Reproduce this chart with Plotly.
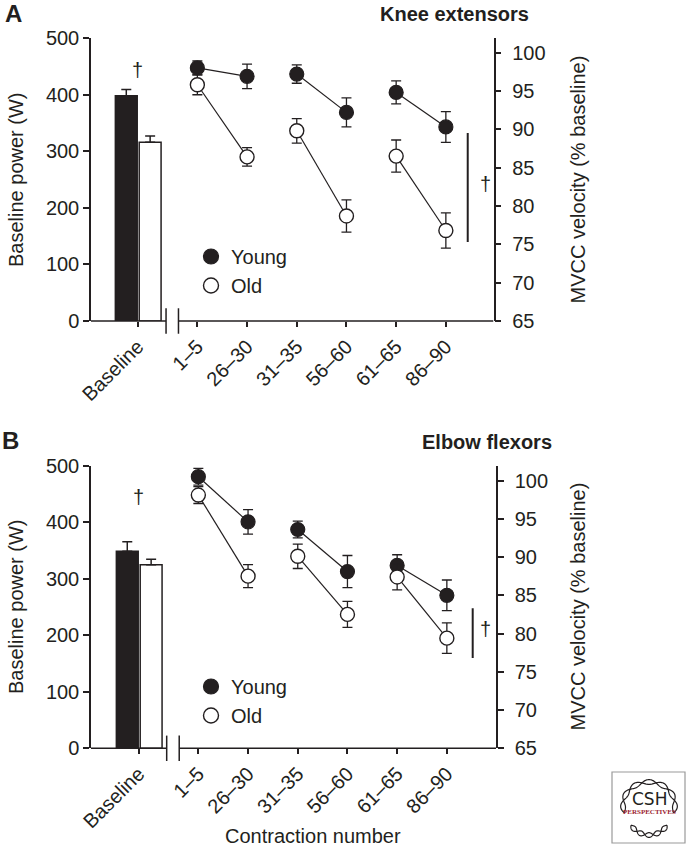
import numpy as np
import plotly.graph_objects as go

W, H = 688, 848
INK = "#231f20"
FONT = "Liberation Sans, Arial, Helvetica, sans-serif"

# ---------------- data ----------------
categories = ["1–5", "26–30", "31–35", "56–60", "61–65", "86–90"]
baseline_label = "Baseline"

knee_base_young, knee_base_young_err = 398, 11
knee_base_old, knee_base_old_err = 316, 11
knee_young = [98.0, 96.9, 97.2, 92.2, 94.8, 90.3]
knee_young_err = [0.9, 1.6, 1.2, 1.9, 1.5, 2.0]
knee_old = [95.8, 86.4, 89.8, 78.7, 86.5, 76.8]
knee_old_err = [1.3, 1.2, 1.6, 2.1, 2.1, 2.3]

elbow_base_young, elbow_base_young_err = 349, 17
elbow_base_old, elbow_base_old_err = 325, 10
elbow_young = [100.5, 94.6, 93.6, 88.1, 88.9, 85.0]
elbow_young_err = [1.1, 1.6, 1.1, 2.1, 1.4, 2.0]
elbow_old = [98.1, 87.5, 90.1, 82.5, 87.4, 79.4]
elbow_old_err = [1.1, 1.5, 1.6, 1.7, 1.7, 2.0]

power_ticks = [0, 100, 200, 300, 400, 500]
velocity_ticks = [65, 70, 75, 80, 85, 90, 95, 100]

# category positions on the numeric x axis (baseline at 0, break, then 1 unit apart)
xpos = [1.2 + i for i in range(len(categories))]


def px(x):
    return x / W


def py(y):
    return 1 - y / H


def gapped(vals, fill=None):
    out = []
    for i, v in enumerate(vals):
        out.append(v)
        if i % 2 == 1:
            out.append(fill)
    return out


gx = gapped(xpos)

fig = go.Figure()

panels = [
    dict(xa="x", ya="y", ya2="y2", leg="legend",
         by=knee_base_young, bye=knee_base_young_err,
         bo=knee_base_old, boe=knee_base_old_err,
         yv=knee_young, yve=knee_young_err, ov=knee_old, ove=knee_old_err),
    dict(xa="x2", ya="y3", ya2="y4", leg="legend2",
         by=elbow_base_young, bye=elbow_base_young_err,
         bo=elbow_base_old, boe=elbow_base_old_err,
         yv=elbow_young, yve=elbow_young_err, ov=elbow_old, ove=elbow_old_err),
]

for p in panels:
    # baseline bars
    fig.add_trace(go.Bar(
        x=[0], y=[p["by"]], xaxis=p["xa"], yaxis=p["ya"], offset=-0.45, width=0.44,
        marker=dict(color=INK, line=dict(color=INK, width=1.5)),
        error_y=dict(type="data", symmetric=False, array=[p["bye"]], arrayminus=[0],
                     color=INK, thickness=1.5, width=5),
        showlegend=False, hoverinfo="skip"))
    fig.add_trace(go.Bar(
        x=[0], y=[p["bo"]], xaxis=p["xa"], yaxis=p["ya"], offset=0.03, width=0.44,
        marker=dict(color="white", line=dict(color=INK, width=1.5)),
        error_y=dict(type="data", symmetric=False, array=[p["boe"]], arrayminus=[0],
                     color=INK, thickness=1.5, width=5),
        showlegend=False, hoverinfo="skip"))
    # velocity series
    fig.add_trace(go.Scatter(
        x=gx, y=gapped(p["yv"]), xaxis=p["xa"], yaxis=p["ya2"], mode="lines+markers",
        connectgaps=False, line=dict(color=INK, width=1.2),
        marker=dict(symbol="circle", size=14, color=INK, line=dict(color=INK, width=1.2)),
        error_y=dict(type="data", array=gapped(p["yve"], 0), color=INK, thickness=1.3, width=5),
        showlegend=False, hoverinfo="skip"))
    fig.add_trace(go.Scatter(
        x=gx, y=gapped(p["ov"]), xaxis=p["xa"], yaxis=p["ya2"], mode="lines+markers",
        connectgaps=False, line=dict(color=INK, width=1.2),
        marker=dict(symbol="circle", size=14, color="white", line=dict(color=INK, width=1.4)),
        error_y=dict(type="data", array=gapped(p["ove"], 0), color=INK, thickness=1.3, width=5),
        showlegend=False, hoverinfo="skip"))
    # legend entries
    fig.add_trace(go.Scatter(
        x=[None], y=[None], xaxis=p["xa"], yaxis=p["ya2"], mode="markers", name="Young",
        marker=dict(symbol="circle", size=15, color=INK, line=dict(color=INK, width=1.2)),
        legend=p["leg"]))
    fig.add_trace(go.Scatter(
        x=[None], y=[None], xaxis=p["xa"], yaxis=p["ya2"], mode="markers", name="Old",
        marker=dict(symbol="circle", size=15, color="white", line=dict(color=INK, width=1.4)),
        legend=p["leg"]))

tickfont = dict(family=FONT, size=20, color=INK)

xcommon = dict(
    showline=False, showgrid=False, zeroline=False, ticks="outside", ticklen=5,
    tickwidth=1.5, tickcolor=INK, tickvals=[0] + xpos, ticktext=[baseline_label] + categories,
    tickangle=-45, tickfont=tickfont, fixedrange=True, automargin=False,
)
yl_common = dict(
    showline=True, linecolor=INK, linewidth=1.5, showgrid=False, zeroline=False,
    ticks="outside", ticklen=6, tickwidth=1.5, tickcolor=INK, range=[0, 500],
    tickvals=power_ticks, tickfont=tickfont, side="left", automargin=False,
)
yr_common = dict(
    showline=True, linecolor=INK, linewidth=1.5, showgrid=False, zeroline=False,
    ticks="outside", ticklen=6, tickwidth=1.5, tickcolor=INK, range=[65, 101.9],
    tickvals=velocity_ticks, tickfont=tickfont, side="right", ticklabelstandoff=7,
    automargin=False,
)

A_dom_x = [px(91), px(493.5)]
A_dom_y = [py(321), py(38)]
B_dom_x = [px(91), px(496)]
B_dom_y = [py(748.3), py(466)]
A_xr = [-0.94, -0.94 + (493.5 - 91) / 49.7]
B_xr = [-0.96, -0.96 + (496 - 91) / 49.7]

fig.update_layout(
    width=W, height=H, margin=dict(l=0, r=0, t=0, b=0, autoexpand=False),
    paper_bgcolor="white", plot_bgcolor="white", barmode="overlay",
    font=dict(family=FONT, size=20, color=INK),
    xaxis=dict(xcommon, domain=A_dom_x, range=A_xr, anchor="y"),
    yaxis=dict(yl_common, domain=A_dom_y, anchor="x"),
    yaxis2=dict(yr_common, domain=A_dom_y, anchor="x", overlaying="y"),
    xaxis2=dict(xcommon, domain=B_dom_x, range=B_xr, anchor="y3"),
    yaxis3=dict(yl_common, domain=B_dom_y, anchor="x2"),
    yaxis4=dict(yr_common, domain=B_dom_y, anchor="x2", overlaying="y3"),
    legend=dict(x=px(191), y=py(237), xanchor="left", yanchor="top",
                bgcolor="rgba(0,0,0,0)", font=dict(family=FONT, size=20, color=INK),
                tracegroupgap=0, itemsizing="trace"),
    legend2=dict(x=px(191), y=py(667), xanchor="left", yanchor="top",
                 bgcolor="rgba(0,0,0,0)", font=dict(family=FONT, size=20, color=INK),
                 tracegroupgap=0, itemsizing="trace"),
)

shapes = []
# broken x-axis lines
for xa, ya, xr, b1, b2 in [("x", "y", A_xr, 0.57, 0.82), ("x2", "y3", B_xr, 0.563, 0.815)]:
    yd = ya + " domain"
    line = dict(color=INK, width=1.5)
    shapes.append(dict(type="line", xref=xa, yref=yd, x0=xr[0], x1=b1, y0=0, y1=0, line=line))
    shapes.append(dict(type="line", xref=xa, yref=yd, x0=b2, x1=xr[1], y0=0, y1=0, line=line))
    for b in (b1, b2):
        shapes.append(dict(type="line", xref=xa, yref=yd, x0=b, x1=b, y0=-0.045, y1=0.045, line=line))

# significance bars
shapes.append(dict(type="line", xref="x", yref="y2", x0=6.64, x1=6.64, y0=75.3, y1=89.5,
                   line=dict(color=INK, width=2)))
shapes.append(dict(type="line", xref="x2", yref="y4", x0=6.72, x1=6.72, y0=76.8, y1=83.3,
                   line=dict(color=INK, width=2)))

# logo box
shapes.append(dict(type="rect", xref="paper", yref="paper", x0=px(612), x1=px(685),
                   y0=py(843), y1=py(772), line=dict(color="#9a9a9a", width=1.2),
                   fillcolor="white", layer="below"))


def helix_paths(cx, cy, rx, ry, t0, t1, n_twist):
    t = np.linspace(np.radians(t0), np.radians(t1), 120)
    paths = []
    for sgn in (1, -1):
        amp = 2.4 * np.sin(n_twist * (t - t[0]) / (t[-1] - t[0]) * np.pi) * sgn
        xs = cx + (rx + amp) * np.cos(t)
        ys = cy - (ry + amp) * np.sin(t)
        pts = [f"{px(a):.5f},{py(b):.5f}" for a, b in zip(xs, ys)]
        paths.append("M " + " L ".join(pts))
    return paths


for path in (helix_paths(649, 805, 26, 23, 200, -20, 7)
             + helix_paths(649, 812, 22, 23, 215, 325, 5)):
    shapes.append(dict(type="path", xref="paper", yref="paper", path=path,
                       line=dict(color=INK, width=1.2)))

fig.update_layout(shapes=shapes)

ann = []


def text(x, y, s, size=20, bold=False, xanchor="center", yanchor="middle", angle=0,
         color=INK, family=FONT, xref="paper", yref="paper"):
    ann.append(dict(x=x, y=y, xref=xref, yref=yref, text=f"<b>{s}</b>" if bold else s,
                    showarrow=False, xanchor=xanchor, yanchor=yanchor, textangle=angle,
                    font=dict(family=family, size=size, color=color)))


# panel labels & titles
text(px(13.5), py(14), "A", size=24, bold=True)
text(px(455), py(14), "Knee extensors", size=20, bold=True)
text(px(10.5), py(440), "B", size=24, bold=True)
text(px(486.7), py(441.5), "Elbow flexors", size=20, bold=True)

# axis titles
text(px(16), py(180), "Baseline power (W)", angle=-90)
text(px(577.5), py(180), "MVCC velocity (% baseline)", angle=-90)
text(px(16), py(607), "Baseline power (W)", angle=-90)
text(px(577.5), py(607), "MVCC velocity (% baseline)", angle=-90)
text(px(313), py(836), "Contraction number")

# daggers
text(0, 443, "†", xref="x", yref="y")
text(6.99, 82.9, "†", xref="x", yref="y2")
text(0, 445, "†", xref="x2", yref="y3")
text(6.97, 80.6, "†", xref="x2", yref="y4")

# logo text
text(px(649), py(799), "CSH", size=17, family="DejaVu Sans, Liberation Sans")
text(px(649), py(811.5), "PERSPECTIVES", size=7, bold=True, color="#9b1b30",
     family="Liberation Serif, DejaVu Serif, serif")

fig.update_layout(annotations=ann)

fig.write_html("out.html", config={"displayModeBar": False},
               post_script="document.body.style.margin='0px';")
